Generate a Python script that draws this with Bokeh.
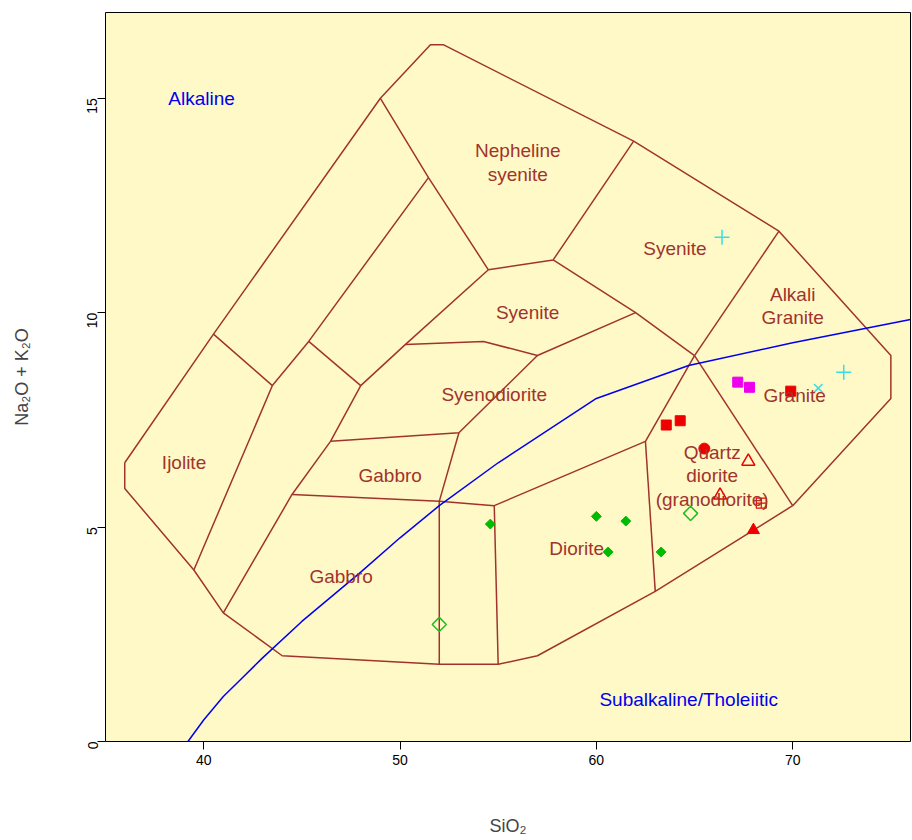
import math
from bokeh.plotting import figure
from bokeh.models import Label, FixedTicker
from bokeh.embed import file_html
from bokeh.resources import INLINE

# --- classification field boundaries (SiO2, Na2O+K2O) ---
outer_x = [35.98, 35.98, 39.5, 41.0, 44.0, 52.0, 55.0, 57.0, 63.0, 70.0, 75.0, 75.0, 69.3, 61.9, 52.2, 51.55, 49.0, 40.5, 35.98]
outer_y = [6.5, 5.9, 4.0, 3.0, 2.0, 1.8, 1.8, 2.0, 3.5, 5.5, 8.0, 9.0, 11.9, 14.0, 16.25, 16.25, 15.0, 9.5, 6.5]
inner_lines = [
    ([40.5, 43.5, 39.5], [9.5, 8.3, 4.0]),
    ([43.5, 45.35, 51.45], [8.3, 9.33, 13.15]),
    ([49.0, 51.45, 54.5], [15.0, 13.15, 11.0]),
    ([45.35, 48.0], [9.33, 8.3]),
    ([48.0, 46.46, 44.5, 41.0], [8.3, 7.0, 5.76, 3.0]),
    ([48.0, 50.28, 54.5, 57.8, 61.9], [8.3, 9.26, 11.0, 11.23, 14.0]),
    ([50.28, 54.25, 57.0, 62.0], [9.26, 9.33, 9.0, 10.0]),
    ([57.8, 62.0, 65.0], [11.23, 10.0, 9.0]),
    ([46.46, 53.0, 57.0], [7.0, 7.2, 9.0]),
    ([53.0, 52.0], [7.2, 5.6]),
    ([44.5, 52.0, 54.8, 62.5, 65.0], [5.76, 5.6, 5.5, 7.0, 9.0]),
    ([52.0, 52.0], [5.6, 1.8]),
    ([54.8, 55.0], [5.5, 1.8]),
    ([62.5, 63.0], [7.0, 3.5]),
    ([65.0, 69.3], [9.0, 11.9]),
    ([65.0, 70.0], [9.0, 5.5]),
]
alk_x = [39.2, 40.0, 41.0, 42.0, 43.0, 45.0, 48.0, 50.0, 52.0, 55.0, 60.0, 64.7, 70.0, 76.0]
alk_y = [0.0, 0.5, 1.05, 1.5, 1.95, 2.8, 3.95, 4.75, 5.5, 6.5, 8.0, 8.77, 9.3, 9.84]

# --- samples ---
gd_x = [54.6, 60.0, 61.5, 60.6, 63.3]; gd_y = [5.07, 5.25, 5.14, 4.42, 4.42]
god_x = [52.0, 64.8]; god_y = [2.73, 5.32]
rsq_x = [63.56, 64.27, 69.9]; rsq_y = [7.38, 7.48, 8.17]
msq_x = [67.2, 67.8]; msq_y = [8.38, 8.26]
rci_x = [65.5]; rci_y = [6.83]
rot_x = [67.74, 66.3]; rot_y = [6.53, 5.74]
rsp_x = [68.4]; rsp_y = [5.56]
rtr_x = [68.0]; rtr_y = [4.93]
cpl_x = [66.4, 72.6]; cpl_y = [11.76, 8.61]
cx_x = [71.3]; cx_y = [8.24]

field_labels = [
    ("Nepheline\nsyenite", 56.0, 13.5), ("Syenite", 64.0, 11.5), ("Alkali\nGranite", 70.0, 10.15),
    ("Syenite", 56.5, 10.0), ("Syenodiorite", 54.8, 8.1), ("Ijolite", 39.0, 6.5),
    ("Gabbro", 49.5, 6.2), ("Gabbro", 47.0, 3.85), ("Diorite", 59.0, 4.5),
    ("Quartz\ndiorite\n(granodiorite)", 65.9, 6.2), ("Granite", 70.1, 8.08),
]

BROWN = "#A0342C"
p = figure(width=912, height=838, x_range=(35, 76), y_range=(0, 17),
           output_backend="svg", toolbar_location=None,
           min_border_left=105, min_border_right=2, min_border_top=12, min_border_bottom=93)
p.background_fill_color = "#FFF9C8"
p.border_fill_color = "white"
p.outline_line_color = "black"
p.grid.visible = False
p.xaxis.ticker = FixedTicker(ticks=[40, 50, 60, 70])
p.yaxis.ticker = FixedTicker(ticks=[0, 5, 10, 15])
for ax in (p.xaxis[0], p.yaxis[0]):
    ax.axis_line_color = None
    ax.minor_tick_line_color = None
    ax.major_tick_out = 8
    ax.major_tick_in = 0
    ax.major_label_text_font = "Liberation Sans"
    ax.major_label_text_font_size = "14px"
    ax.major_label_text_color = "black"
    ax.axis_label_text_font = "Liberation Sans"
    ax.axis_label_text_font_style = "normal"
    ax.axis_label_text_font_size = "18px"
p.yaxis.major_label_orientation = math.pi / 2
p.xaxis.axis_label = "SiO₂"
p.yaxis.axis_label = "Na₂O + K₂O"
p.xaxis.axis_label_standoff = 48
p.yaxis.axis_label_standoff = 48

p.line(outer_x, outer_y, line_color=BROWN, line_width=1.5)
for xs, ys in inner_lines:
    p.line(xs, ys, line_color=BROWN, line_width=1.5)
p.line(alk_x, alk_y, line_color="#0000EE", line_width=1.5)

for txt, x, y in field_labels:
    p.add_layout(Label(x=x, y=y, text=txt, text_align="center", text_baseline="middle",
                       text_color=BROWN, text_font="Liberation Sans", text_font_size="19px",
                       text_line_height=1.12))
p.add_layout(Label(x=38.2, y=15.0, text="Alkaline", text_baseline="middle",
                   text_color="#0000EE", text_font="Liberation Sans", text_font_size="19px"))
p.add_layout(Label(x=64.7, y=0.97, text="Subalkaline/Tholeiitic", text_align="center", text_baseline="middle",
                   text_color="#0000EE", text_font="Liberation Sans", text_font_size="19px"))

p.scatter(gd_x, gd_y, marker="square", angle=math.pi / 4, size=7, fill_color="#00BB00", line_color="#00BB00")
p.scatter(god_x, god_y, marker="square", angle=math.pi / 4, size=10, fill_color=None, line_color="#22BB22", line_width=1.5)
p.scatter(rsq_x, rsq_y, marker="square", size=10, fill_color="#EE0000", line_color="#EE0000")
p.scatter(msq_x, msq_y, marker="square", size=10, fill_color="#EE00EE", line_color="#EE00EE")
p.scatter(rci_x, rci_y, marker="circle", size=11, fill_color="#EE0000", line_color="#EE0000")
p.scatter(rot_x, rot_y, marker="triangle", size=13, fill_color=None, line_color="#EE0000", line_width=1.5)
p.scatter(rsp_x, rsp_y, marker="square_cross", size=10, fill_color=None, line_color="#EE0000", line_width=1.2)
p.scatter(rtr_x, rtr_y, marker="triangle", size=12, fill_color="#EE0000", line_color="#EE0000")
p.scatter(cpl_x, cpl_y, marker="cross", size=15, line_color="#33E0E8", line_width=1.5)
p.scatter(cx_x, cx_y, marker="x", size=12, line_color="#33E0E8", line_width=1.5)

open("out.html", "w").write(file_html(p, INLINE))
